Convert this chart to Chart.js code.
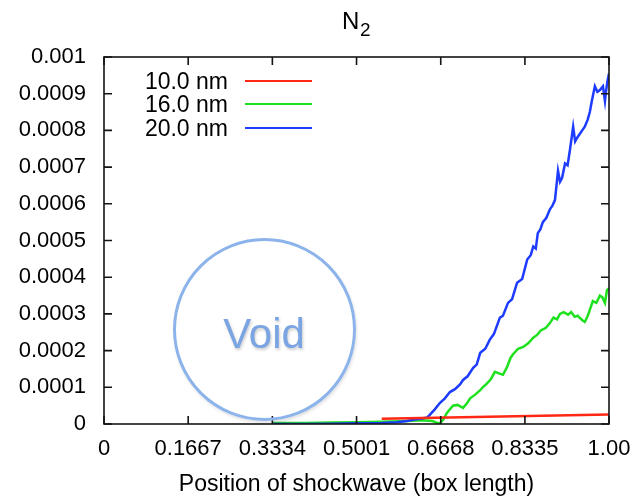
<!DOCTYPE html>
<html>
<head>
<meta charset="utf-8">
<script src="https://cdn.jsdelivr.net/npm/chart.js@4/dist/chart.umd.min.js"></script>
<style>
  html, body { margin: 0; padding: 0; background: #fff; }
  #wrap { position: relative; width: 633px; height: 498px; font-family: "Liberation Sans", Arial, sans-serif; }
  #myChart { position: absolute; left: 0; top: 0; }
  .abs { position: absolute; white-space: nowrap; }
  #titleN { left: 342px; top: 8.7px; font-size: 24px; line-height: 24px; color: #000; }
  #title2 { left: 360px; top: 19.9px; font-size: 19px; line-height: 19px; color: #000; }
  .legText { width: 228px; left: 0; text-align: right; font-size: 23px; line-height: 23px; color: #000; }
  .legLine { left: 245px; width: 67px; height: 2.5px; }
  #void {
    left: 172.5px; top: 237.5px; width: 183px; height: 183px; box-sizing: border-box;
    border: 3px solid rgb(140, 180, 235); border-radius: 50%;
    box-shadow: 1px 2px 3px rgba(0, 0, 0, 0.12);
  }
  #voidText {
    left: 164px; width: 200px; top: 313.4px; text-align: center;
    font-size: 42px; line-height: 42px; color: rgb(122, 164, 226);
    text-shadow: 1px 2px 3px rgba(0, 0, 0, 0.2);
  }
</style>
</head>
<body>
<div id="wrap">
  <canvas id="myChart" width="633" height="498"></canvas>
  <div class="abs" id="titleN">N</div>
  <div class="abs" id="title2">2</div>
  <div class="abs" id="void"></div>
  <div class="abs" id="voidText">Void</div>
</div>
<script>
'use strict';

// tick positions and labels
let xTicks = [0, 0.1667, 0.3334, 0.5001, 0.6668, 0.8335, 1.0];
let xTickLabels = ['0', '0.1667', '0.3334', '0.5001', '0.6668', '0.8335', '1.00'];
let yTickLabels = ['0', '0.0001', '0.0002', '0.0003', '0.0004', '0.0005', '0.0006', '0.0007', '0.0008', '0.0009', '0.001'];

let seriesNames = ['10.0 nm', '16.0 nm', '20.0 nm'];

// 10.0 nm
let redX = [0.55, 1.0];
let redY = [0.000014, 0.000026];

// 16.0 nm
let greenX = [0.335, 0.40, 0.45, 0.50, 0.55, 0.60, 0.63, 0.65, 0.66, 0.665, 0.672, 0.679, 0.685, 0.691, 0.70, 0.711, 0.718, 0.725, 0.735, 0.745, 0.750, 0.758, 0.766, 0.774, 0.782, 0.790, 0.798, 0.805, 0.810, 0.820, 0.830, 0.840, 0.850, 0.857, 0.865, 0.875, 0.883, 0.890, 0.897, 0.903, 0.910, 0.919, 0.925, 0.932, 0.938, 0.943, 0.948, 0.952, 0.958, 0.963, 0.968, 0.975, 0.982, 0.987, 0.992, 0.996, 1.0];
let greenY = [0.000003, 0.000003, 0.000004, 0.000005, 0.000006, 0.000008, 0.000010, 0.000008, 0.000003, 0.000002, 0.000012, 0.000030, 0.000040, 0.000050, 0.000052, 0.000044, 0.000055, 0.000070, 0.000080, 0.000092, 0.000100, 0.000110, 0.000122, 0.000142, 0.000138, 0.000134, 0.000155, 0.000180, 0.000190, 0.000205, 0.000210, 0.000220, 0.000235, 0.000242, 0.000255, 0.000262, 0.000275, 0.000290, 0.000285, 0.000300, 0.000305, 0.000298, 0.000305, 0.000292, 0.000295, 0.000288, 0.000282, 0.000278, 0.000295, 0.000315, 0.000335, 0.000330, 0.000350, 0.000345, 0.000330, 0.000365, 0.000370];

// 20.0 nm
let blueX = [0.335, 0.40, 0.45, 0.50, 0.55, 0.58, 0.60, 0.615, 0.63, 0.64, 0.645, 0.655, 0.665, 0.675, 0.685, 0.695, 0.705, 0.711, 0.72, 0.731, 0.738, 0.745, 0.755, 0.764, 0.772, 0.784, 0.79, 0.80, 0.808, 0.818, 0.828, 0.838, 0.845, 0.850, 0.855, 0.859, 0.864, 0.869, 0.876, 0.883, 0.888, 0.893, 0.899, 0.903, 0.907, 0.913, 0.918, 0.923, 0.929, 0.933, 0.937, 0.942, 0.947, 0.952, 0.958, 0.962, 0.966, 0.972, 0.977, 0.982, 0.988, 0.992, 0.994, 0.997, 1.0];
let blueY = [0, 0, 0.000001, 0.000002, 0.000003, 0.000005, 0.000008, 0.000012, 0.000015, 0.000018, 0.000025, 0.000040, 0.000057, 0.000070, 0.000087, 0.000095, 0.000108, 0.000120, 0.000130, 0.000153, 0.000162, 0.000194, 0.000205, 0.000230, 0.000245, 0.000290, 0.000295, 0.000330, 0.000340, 0.000385, 0.000395, 0.000448, 0.000460, 0.000484, 0.000478, 0.000520, 0.000530, 0.000550, 0.000562, 0.000585, 0.000595, 0.000610, 0.000690, 0.000660, 0.000670, 0.000710, 0.000705, 0.000750, 0.000810, 0.000770, 0.000780, 0.000790, 0.000800, 0.000810, 0.000830, 0.000850, 0.000880, 0.000920, 0.000905, 0.000910, 0.000920, 0.000880, 0.000905, 0.000935, 0.000955];

function pairs(xs, ys) {
  let out = [];
  for (let i = 0; i < xs.length; i++) {
    out.push({ x: xs[i], y: ys[i] });
  }
  return out;
}

let colors = ['rgb(255, 40, 20)', 'rgb(30, 225, 30)', 'rgb(30, 60, 255)'];
let fontFamily = '"Liberation Sans", Arial, sans-serif';

// legend as html, built from the series names and colours
let wrap = document.getElementById('wrap');
let legendRows = [81, 104, 128];
for (let i = 0; i < seriesNames.length; i++) {
  let t = document.createElement('div');
  t.className = 'abs legText';
  t.style.top = (legendRows[i] - 11.5) + 'px';
  t.textContent = seriesNames[i];
  wrap.appendChild(t);
  let l = document.createElement('div');
  l.className = 'abs legLine';
  l.style.top = (legendRows[i] - 1.25) + 'px';
  l.style.background = colors[i];
  wrap.appendChild(l);
}

// frame with inward ticks (gnuplot style)
let frame = {
  id: 'frame',
  afterDatasetsDraw(chart) {
    let c = chart.ctx;
    let xs = chart.scales.x;
    let ys = chart.scales.y;
    let L = xs.left, R = xs.right, T = ys.top, B = ys.bottom;
    c.save();
    c.strokeStyle = 'rgb(20, 20, 20)';
    c.lineWidth = 1.6;
    c.setLineDash([]);
    c.strokeRect(L, T, R - L, B - T);
    c.beginPath();
    let tl = 8;
    for (let i = 0; i < xTicks.length; i++) {
      let px = xs.getPixelForValue(xTicks[i]);
      c.moveTo(px, B); c.lineTo(px, B - tl);
      c.moveTo(px, T); c.lineTo(px, T + tl);
    }
    for (let i = 0; i < yTickLabels.length; i++) {
      let py = ys.getPixelForValue(i * 0.0001);
      c.moveTo(L, py); c.lineTo(L + tl, py);
      c.moveTo(R, py); c.lineTo(R - tl, py);
    }
    c.stroke();
    c.restore();
  }
};

let ctx = document.getElementById('myChart').getContext('2d');

let myChart = new Chart(ctx, {
  type: 'line',
  data: {
    datasets: [
      { label: seriesNames[0], data: pairs(redX, redY), borderColor: colors[0], order: 0 },
      { label: seriesNames[1], data: pairs(greenX, greenY), borderColor: colors[1], order: 2 },
      { label: seriesNames[2], data: pairs(blueX, blueY), borderColor: colors[2], order: 1 }
    ]
  },
  options: {
    responsive: false,
    animation: false,
    elements: {
      point: { radius: 0 },
      line: { borderWidth: 2.5, tension: 0, fill: false }
    },
    layout: { padding: { top: 57, left: 0, right: 24, bottom: 0 } },
    plugins: {
      legend: { display: false },
      title: { display: false },
      tooltip: { enabled: false }
    },
    scales: {
      x: {
        type: 'linear',
        min: 0,
        max: 1,
        grid: { display: false, drawTicks: false },
        border: { display: false },
        afterBuildTicks: scale => {
          scale.ticks = xTicks.map(v => ({ value: v }));
        },
        afterFit: scale => {
          scale.height = 74;
          scale.paddingLeft = 0;
          scale.paddingRight = 0;
        },
        ticks: {
          autoSkip: false,
          maxRotation: 0,
          padding: 12,
          color: '#000',
          font: { family: fontFamily, size: 22 },
          callback: (v, i) => xTickLabels[i]
        },
        title: {
          display: true,
          text: 'Position of shockwave (box length)',
          color: '#000',
          padding: { top: 8, bottom: 0 },
          font: { family: fontFamily, size: 23 }
        }
      },
      y: {
        type: 'linear',
        min: 0,
        max: 0.001,
        grid: { display: false, drawTicks: false },
        border: { display: false },
        afterBuildTicks: scale => {
          scale.ticks = yTickLabels.map((s, i) => ({ value: i * 0.0001 }));
        },
        afterFit: scale => {
          scale.width = 104;
          scale.paddingTop = 0;
          scale.paddingBottom = 0;
        },
        ticks: {
          autoSkip: false,
          padding: 18,
          color: '#000',
          font: { family: fontFamily, size: 22 },
          callback: (v, i) => yTickLabels[i]
        }
      }
    }
  },
  plugins: [frame]
});
</script>
</body>
</html>
